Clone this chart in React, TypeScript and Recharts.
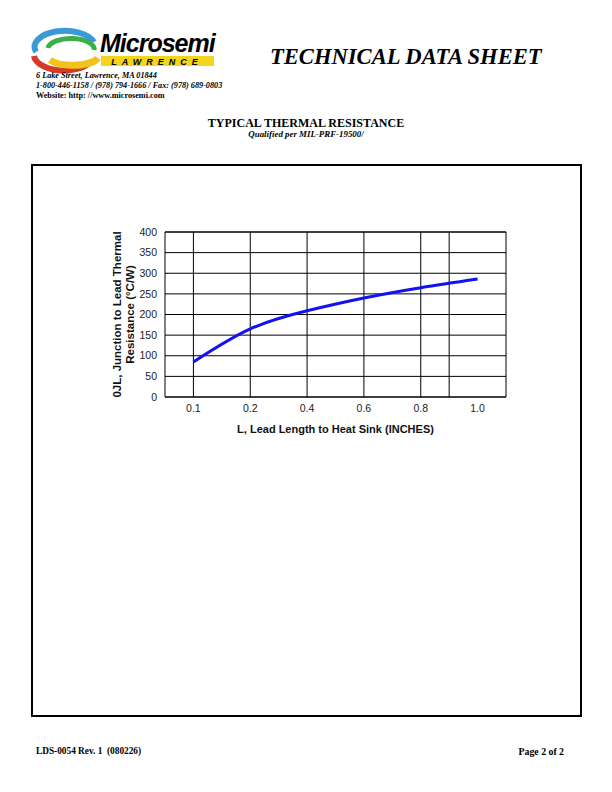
import { LineChart, Line, XAxis, YAxis, CartesianGrid, ReferenceLine, Label } from 'recharts'

// lead length categories (evenly spaced on the original chart)
const leadLengths = ['0.1', '0.2', '0.4', '0.6', '0.8', '1.0']
// θJL, °C/W
const thermalRes = [85, 165, 209, 240, 265, 286]
const yTicks = [0, 50, 100, 150, 200, 250, 300, 350, 400]
// vertical grid lines, in category index units
const vGrid = [0, 1, 2, 3, 4, 4.5]

const data = leadLengths.map((l, i) => ({ idx: i, label: l, r: thermalRes[i] }))

const serif = '"Liberation Serif", "Times New Roman", serif'
const sans = '"Liberation Sans", Arial, sans-serif'

function YLabel(props: any) {
  const vb = props.viewBox
  const cy = vb.y + vb.height / 2
  return (
    <text
      transform={`translate(125, ${cy}) rotate(-90)`}
      textAnchor="middle"
      fontFamily={sans}
      fontWeight="bold"
      fontSize={11.5}
      fill="#111"
    >
      <tspan x={0} dy={-4}>0JL, Junction to Lead Thermal</tspan>
      <tspan x={0} dy={13}>Resistance (°C/W)</tspan>
    </text>
  )
}

function Logo() {
  return (
    <svg width={200} height={50} style={{ position: 'absolute', left: 28, top: 24 }}>
      <path d="M 8 28 A 30 16 0 0 1 66 18" stroke="#3a9ad9" strokeWidth={6} fill="none" />
      <path d="M 6 32 A 30 16 0 0 0 60 40" stroke="#d23a2a" strokeWidth={6} fill="none" />
      <path d="M 20 24 A 22 10 0 0 1 66 26" stroke="#3cae4a" strokeWidth={5} fill="none" />
      <path d="M 22 36 A 26 10 0 0 0 70 34" stroke="#f2c31a" strokeWidth={7} fill="none" />
      <text x={72} y={28} fontFamily={sans} fontWeight="bold" fontStyle="italic" fontSize={25} fill="#000" letterSpacing={-1}>
        Microsemi
      </text>
      <rect x={73} y={32} width={113} height={10} fill="#f2d51c" />
      <text x={129} y={40.5} textAnchor="middle" fontFamily={sans} fontWeight="bold" fontStyle="italic" fontSize={9} letterSpacing={5} fill="#000">
        LAWRENCE
      </text>
    </svg>
  )
}

export default function App() {
  const abs = (l: number, t: number): React.CSSProperties => ({ position: 'absolute', left: l, top: t, margin: 0 })
  return (
    <div style={{ position: 'absolute', left: 0, top: 0, width: 612, height: 792, background: '#fff', color: '#000' }}>
      <Logo />
      <div style={{ ...abs(270, 44), fontFamily: serif, fontWeight: 'bold', fontStyle: 'italic', fontSize: 22.6, whiteSpace: 'nowrap' }}>
        TECHNICAL DATA SHEET
      </div>
      <div style={{ ...abs(36, 71), fontFamily: serif, fontWeight: 'bold', fontStyle: 'italic', fontSize: 8.2, lineHeight: '10px', whiteSpace: 'nowrap' }}>
        <div>6 Lake Street, Lawrence, MA 01844</div>
        <div>1-800-446-1158 / (978) 794-1666 / Fax: (978) 689-0803</div>
        <div style={{ fontStyle: 'normal' }}>Website: http: //www.microsemi.com</div>
      </div>
      <div style={{ ...abs(0, 116), width: 612, textAlign: 'center', fontFamily: serif, fontWeight: 'bold', fontSize: 12 }}>
        TYPICAL THERMAL RESISTANCE
      </div>
      <div style={{ ...abs(0, 129), width: 612, textAlign: 'center', fontFamily: serif, fontWeight: 'bold', fontStyle: 'italic', fontSize: 8.9 }}>
        Qualified per MIL-PRF-19500/
      </div>
      <div style={{ ...abs(31, 164), width: 547, height: 549, border: '2px solid #000' }} />

      <div style={abs(0, 200)}>
        <LineChart width={612} height={260} data={data} margin={{ top: 32, right: 106, left: 105, bottom: 20 }}>
          <CartesianGrid vertical={false} stroke="#000" strokeWidth={1} />
          {vGrid.map((v) => (
            <ReferenceLine key={v} x={v} stroke="#000" strokeWidth={1} />
          ))}
          <XAxis
            dataKey="idx"
            type="number"
            domain={[-0.5, 5.5]}
            ticks={data.map((d) => d.idx)}
            tickFormatter={(v) => leadLengths[v]}
            tick={{ fontSize: 10.5, fill: '#222', fontFamily: sans }}
            tickLine={false}
            axisLine={{ stroke: '#000' }}
            height={43}
            interval={0}
          >
            <Label
              value="L, Lead Length to Heat Sink (INCHES)"
              position="insideBottom"
              offset={7}
              style={{ fontFamily: sans, fontWeight: 'bold', fontSize: 11, fill: '#111' }}
            />
          </XAxis>
          <YAxis
            domain={[0, 400]}
            ticks={yTicks}
            tick={{ fontSize: 10.5, fill: '#222', fontFamily: sans }}
            tickLine={false}
            axisLine={{ stroke: '#000' }}
            width={60}
            interval={0}
            label={{ content: YLabel }}
          />
          <ReferenceLine x={5.5} stroke="#000" strokeWidth={1} />
          <ReferenceLine y={400} stroke="#000" strokeWidth={1} />
          <Line
            dataKey="r"
            type="natural"
            stroke="#1212f0"
            strokeWidth={3}
            dot={false}
            isAnimationActive={false}
          />
        </LineChart>
      </div>

      <div style={{ ...abs(36, 746), fontFamily: serif, fontWeight: 'bold', fontSize: 9.3, whiteSpace: 'pre' }}>
        LDS-0054 Rev. 1  (080226)
      </div>
      <div style={{ ...abs(480, 746), width: 84, textAlign: 'right', fontFamily: serif, fontWeight: 'bold', fontSize: 9.8 }}>
        Page 2 of 2
      </div>
    </div>
  )
}
